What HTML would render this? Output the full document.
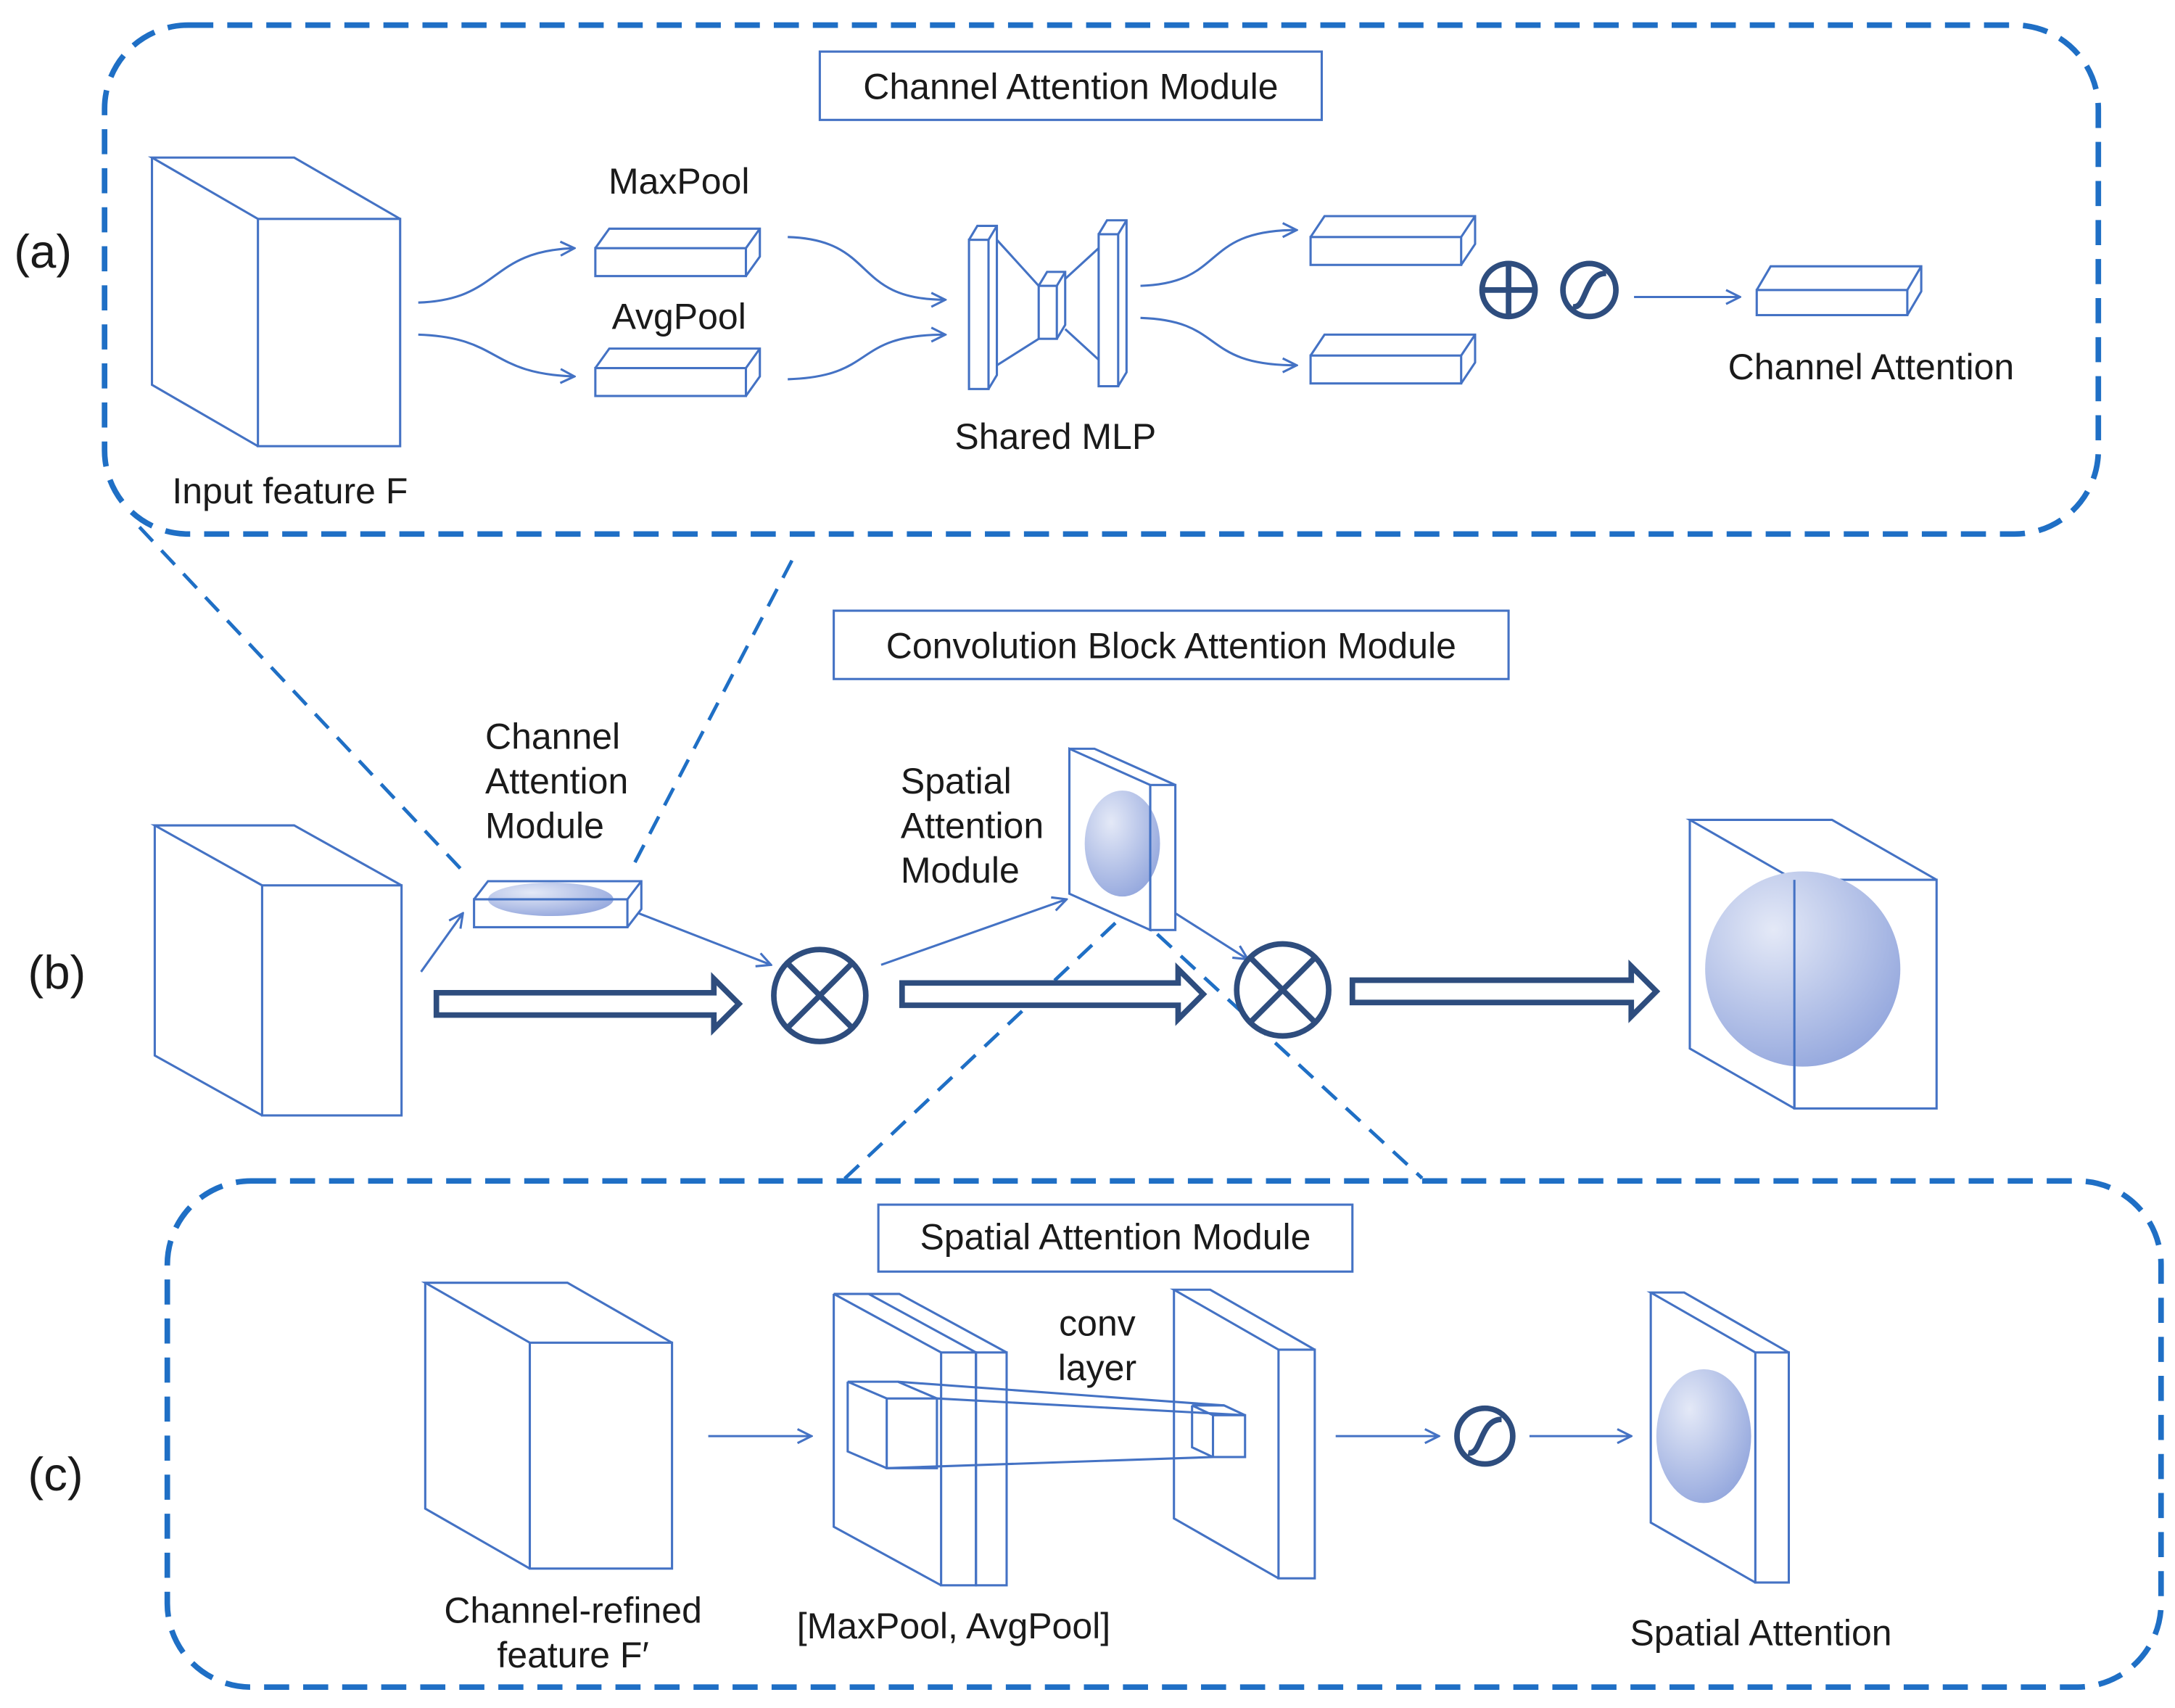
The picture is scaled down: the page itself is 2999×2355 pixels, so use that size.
<!DOCTYPE html>
<html><head><meta charset="utf-8"><style>
html,body{margin:0;padding:0;background:#fff;width:2999px;height:2355px;overflow:hidden}
svg{display:block}
text{font-family:"Liberation Sans",sans-serif;font-size:26px;fill:#1a1a1a}
</style></head><body>
<svg width="2999" height="2355" viewBox="0 0 1560 1225" preserveAspectRatio="none" xmlns="http://www.w3.org/2000/svg">
<defs>
<marker id="ar" viewBox="0 0 12 12" refX="11" refY="6" markerWidth="12" markerHeight="12" markerUnits="userSpaceOnUse" orient="auto">
<path d="M1,1 L11,6 L1,11" fill="none" stroke="#4472c4" stroke-width="1.6"/></marker>
<radialGradient id="g" cx="0.35" cy="0.3" r="0.8"><stop offset="0" stop-color="#e4e9f7"/><stop offset="1" stop-color="#90a4dc"/></radialGradient>
</defs>
<g fill="none" stroke="#1f6fc5" stroke-width="4" stroke-dasharray="18 10">
<rect x="75" y="18" width="1430" height="365" rx="60"/>
<rect x="120" y="847" width="1430" height="363" rx="60"/>
</g>
<g fill="none" stroke="#1f6fc5" stroke-width="2.5" stroke-dasharray="14 9">
<line x1="100" y1="378" x2="335" y2="628"/>
<line x1="568" y1="402" x2="452" y2="625"/>
<line x1="800" y1="662" x2="603" y2="848"/>
<line x1="830" y1="670" x2="1020" y2="845"/>
</g>
<g fill="#fff" stroke="#4472c4" stroke-width="1.6">
<rect x="588" y="37" width="360" height="49"/>
<rect x="598" y="438" width="484" height="49"/>
<rect x="630" y="864" width="340" height="48"/>
</g>
<g fill="none" stroke="#4472c4" stroke-width="1.6">
<!-- cubes: front rect + top + left -->
<rect x="185" y="157" width="102" height="163"/><polyline points="185,157 109,113 211,113 287,157"/><polyline points="109,113 109,276 185,320"/>
<rect x="188" y="635" width="100" height="165"/><polyline points="188,635 111,592 211,592 288,635"/><polyline points="111,592 111,757 188,800"/>
<rect x="1287" y="631" width="102" height="164"/><polyline points="1287,631 1212,588 1314,588 1389,631"/><polyline points="1212,588 1212,752 1287,795"/>
<rect x="380" y="963" width="102" height="162"/><polyline points="380,963 305,920 407,920 482,963"/><polyline points="305,920 305,1082 380,1125"/>
<!-- bars -->
<rect x="427" y="178" width="108" height="20"/><polyline points="427,178 437,164 545,164 545,184 535,198"/><line x1="535" y1="178" x2="545" y2="164"/>
<rect x="427" y="264" width="108" height="20"/><polyline points="427,264 437,250 545,250 545,270 535,284"/><line x1="535" y1="264" x2="545" y2="250"/>
<rect x="940" y="170" width="108" height="20"/><polyline points="940,170 950,155 1058,155 1058,175 1048,190"/><line x1="1048" y1="170" x2="1058" y2="155"/>
<rect x="940" y="255" width="108" height="20"/><polyline points="940,255 950,240 1058,240 1058,260 1048,275"/><line x1="1048" y1="255" x2="1058" y2="240"/>
<rect x="1260" y="208" width="108" height="18"/><polyline points="1260,208 1270,191 1378,191 1378,209 1368,226"/><line x1="1368" y1="208" x2="1378" y2="191"/>
<!-- shared MLP -->
<rect x="695" y="172" width="14" height="107"/><polyline points="695,172 701,162 715,162 715,269 709,279"/><line x1="709" y1="172" x2="715" y2="162"/>
<rect x="745" y="205" width="13" height="38"/><polyline points="745,205 751,195 764,195 764,233 758,243"/><line x1="758" y1="205" x2="764" y2="195"/>
<rect x="788" y="168" width="14" height="109"/><polyline points="788,168 794,158 808,158 808,267 802,277"/><line x1="802" y1="168" x2="808" y2="158"/>
<line x1="715" y1="172" x2="745" y2="205"/><line x1="715" y1="262" x2="745" y2="243"/>
<line x1="764" y1="200" x2="788" y2="178"/><line x1="764" y1="236" x2="788" y2="258"/>
<!-- b small bar -->
<ellipse cx="395" cy="645" rx="45" ry="12" fill="url(#g)" stroke="none"/>
<rect x="340" y="645" width="110" height="20"/><polyline points="340,645 350,632 460,632 460,652 450,665"/><line x1="450" y1="645" x2="460" y2="632"/>
<!-- b spatial slab -->
<polygon points="767,537 825,563 825,667 767,641" fill="#fff"/>
<ellipse cx="805" cy="605" rx="27" ry="38" fill="url(#g)" stroke="none"/>
<rect x="825" y="563" width="18" height="104"/><polyline points="767,537 785,537 843,563"/>
<!-- final big circle -->
<circle cx="1293" cy="695" r="70" fill="url(#g)" stroke="none"/>
<line x1="1287" y1="631" x2="1287" y2="795"/>
<!-- c stacks -->
<rect x="675" y="970" width="25" height="167"/><rect x="700" y="970" width="22" height="167"/>
<polyline points="675,970 598,928 623,928 700,970"/><polyline points="623,928 645,928 722,970"/><polyline points="598,928 598,1095 675,1137"/>
<rect x="636" y="1003" width="36" height="50"/><polyline points="636,1003 608,991 644,991 672,1003"/><polyline points="608,991 608,1041 636,1053"/>
<rect x="917" y="968" width="26" height="164"/><polyline points="917,968 842,925 868,925 943,968"/><polyline points="842,925 842,1089 917,1132"/>
<rect x="870" y="1015" width="23" height="30"/><polyline points="870,1015 855,1008 878,1008 893,1015"/><polyline points="855,1008 855,1038 870,1045"/>
<line x1="644" y1="991" x2="878" y2="1008"/><line x1="636" y1="1053" x2="870" y2="1045"/><line x1="672" y1="1003" x2="893" y2="1015"/>
<rect x="1259" y="970" width="24" height="165"/><polyline points="1259,970 1184,927 1208,927 1283,970"/><polyline points="1184,927 1184,1092 1259,1135"/>
<ellipse cx="1222" cy="1030" rx="34" ry="48" fill="url(#g)" stroke="none"/>
<!-- thin arrows -->
<g marker-end="url(#ar)">
<path d="M300,217 C360,215 350,180 412,178"/>
<path d="M300,240 C360,242 350,268 412,270"/>
<path d="M565,170 C630,172 610,215 678,215"/>
<path d="M565,272 C630,270 610,240 678,240"/>
<path d="M818,205 C880,203 860,165 930,165"/>
<path d="M818,228 C880,230 860,262 930,262"/>
<line x1="1172" y1="213" x2="1248" y2="213"/>
<line x1="302" y1="697" x2="332" y2="655"/>
<line x1="458" y1="655" x2="553" y2="692"/>
<line x1="632" y1="692" x2="765" y2="645"/>
<line x1="843" y1="655" x2="895" y2="688"/>
<line x1="508" y1="1030" x2="582" y2="1030"/>
<line x1="958" y1="1030" x2="1032" y2="1030"/>
<line x1="1097" y1="1030" x2="1170" y2="1030"/>
</g>
</g>
<g fill="#fff" stroke="#2e4d7e" stroke-width="4">
<polygon points="313,712 512,712 512,702 530,720 512,738 512,728 313,728"/>
<polygon points="647,705 845,705 845,695 863,713 845,731 845,721 647,721"/>
<polygon points="970,703 1170,703 1170,693 1188,711 1170,729 1170,719 970,719"/>
<circle cx="588" cy="714" r="33"/><path d="M565,691 L611,737 M611,691 L565,737"/>
<circle cx="920" cy="710" r="33"/><path d="M897,687 L943,733 M943,687 L897,733"/>
<circle cx="1082" cy="208" r="19"/><path d="M1063,208 H1101 M1082,189 V227"/>
<circle cx="1140" cy="208" r="19"/><path d="M1128,220 C1138,222 1136,196 1152,196" fill="none"/>
<circle cx="1065" cy="1030" r="20"/><path d="M1053,1042 C1063,1044 1061,1018 1077,1018" fill="none"/>
</g>
<text x="768" y="71" text-anchor="middle">Channel  Attention Module</text>
<text x="840" y="472" text-anchor="middle">Convolution Block Attention Module</text>
<text x="800" y="896" text-anchor="middle">Spatial Attention Module</text>
<text x="10" y="192" style="font-size:34px">(a)</text>
<text x="20" y="709" style="font-size:34px">(b)</text>
<text x="20" y="1069" style="font-size:34px">(c)</text>
<text x="487" y="139" text-anchor="middle">MaxPool</text>
<text x="487" y="236" text-anchor="middle">AvgPool</text>
<text x="757" y="322" text-anchor="middle">Shared MLP</text>
<text x="1342" y="272" text-anchor="middle">Channel  Attention</text>
<text x="208" y="361" text-anchor="middle">Input  feature F</text>
<text x="348" y="537">Channel</text><text x="348" y="569">Attention</text><text x="348" y="601">Module</text>
<text x="646" y="569">Spatial</text><text x="646" y="601">Attention</text><text x="646" y="633">Module</text>
<text x="787" y="958" text-anchor="middle">conv</text><text x="787" y="990" text-anchor="middle">layer</text>
<text x="411" y="1164" text-anchor="middle">Channel-refined</text>
<text x="411" y="1196" text-anchor="middle">feature F′</text>
<text x="684" y="1175" text-anchor="middle">[MaxPool, AvgPool]</text>
<text x="1263" y="1180" text-anchor="middle">Spatial Attention</text>
</svg>
</body></html>
